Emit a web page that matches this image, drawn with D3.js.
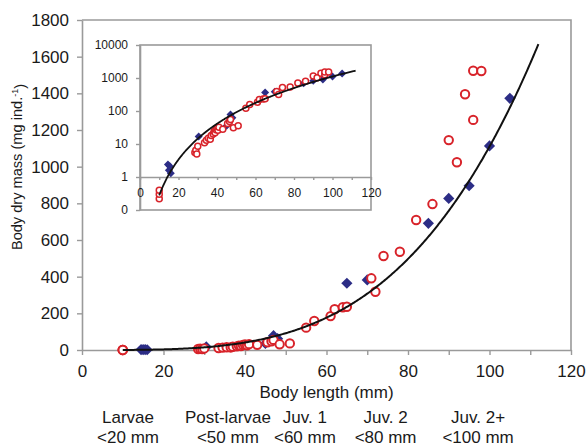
<!DOCTYPE html>
<html>
<head>
<meta charset="utf-8">
<script src="https://cdn.jsdelivr.net/npm/d3@7"></script>
<style>
  body { margin: 0; background: #fff; }
  svg text { font-family: "Liberation Sans", Arial, sans-serif; fill: #1a1a1a; }
</style>
</head>
<body>
<svg id="chart" width="587" height="446"></svg>
<script>
// Body length (mm) and dry mass (mg ind.-1), open circles
const redLength = [10, 10, 10, 28.5, 29, 29.5, 30, 33.5, 34.5, 35.5, 36.5, 37, 38, 38.5, 39, 39.5, 40, 40.5, 41, 43,
  45.5, 46.5, 47, 48.5, 51, 55, 57, 61, 62, 64, 65, 71, 72, 74, 78, 82, 86, 90, 92, 94, 96, 96, 98];
const redMass = [0.22, 0.3, 0.4, 5.5, 6.5, 5, 8.5, 11, 13, 15, 14, 18, 20, 24, 22, 27, 30, 26, 32, 28,
  42, 48, 55, 31, 36, 122, 158, 185, 222, 233, 236, 391, 318, 513, 536, 709, 796, 1145, 1024, 1395, 1255, 1523, 1522];

// Body length (mm) and dry mass (mg ind.-1), filled diamonds
const blueLength = [14.5, 15, 15.5, 16, 30.5, 45, 47, 48, 65, 70, 85, 90, 95, 100, 105];
const blueMass = [2.4, 1.6, 2.1, 1.3, 17, 36, 78, 62, 364, 382, 691, 827, 896, 1113, 1373];

// Power-law fit W = a * L^b over the measured length range
const fitCoef = 7.0e-5;
const fitExp = 3.6;
const fitRange = [10, 112];

const xTickValues = [0, 20, 40, 60, 80, 100, 120];
const yTickValues = [0, 200, 400, 600, 800, 1000, 1200, 1400, 1600, 1800];
const insetYTickValues = [0.1, 1, 10, 100, 1000, 10000];
const insetYTickLabels = ["0", "1", "10", "100", "1000", "10000"];

const stageNames = ["Larvae", "Post-larvae", "Juv. 1", "Juv. 2", "Juv. 2+"];
const stageLimits = ["<20 mm", "<50 mm", "<60 mm", "<80 mm", "<100 mm"];

// ---------------------------------------------------------------
const svg = d3.select("#chart");
const axisGrey = "#9a9a9a";
const red = "#d8232a";
const navy = "#2c2d86";

const redPts = redLength.map((L, i) => ({ L, W: redMass[i] }));
const bluePts = blueLength.map((L, i) => ({ L, W: blueMass[i] }));
const fitPts = d3.range(fitRange[0], fitRange[1] + 0.001, 0.25).map(L => ({ L, W: fitCoef * Math.pow(L, fitExp) }));

const diamond = s => `M0,${-s}L${s},0L0,${s}L${-s},0Z`;

function styleAxis(g) {
  g.select(".domain").attr("stroke", axisGrey).attr("stroke-width", 1.6);
  g.selectAll(".tick line").attr("stroke", axisGrey).attr("stroke-width", 1.4);
  g.selectAll(".tick text").attr("fill", "#1a1a1a");
}

// ---------------- main panel ----------------
const M = { left: 82, right: 571, top: 20, bottom: 350 };
const x = d3.scaleLinear().domain([0, 120]).range([M.left, M.right]);
const y = d3.scaleLinear().domain([0, 1800]).range([M.bottom, M.top]);

// frame (top and right edges)
svg.append("path")
  .attr("d", `M${M.left},${M.top}H${M.right}V${M.bottom}`)
  .attr("fill", "none").attr("stroke", axisGrey).attr("stroke-width", 1.6);

const gx = svg.append("g").attr("transform", `translate(0,${M.bottom})`)
  .call(d3.axisBottom(x).tickValues(d3.range(0, 121, 10))
    .tickFormat(d => xTickValues.includes(d) ? String(d) : "").tickSize(5).tickSizeOuter(0).tickPadding(10));
gx.selectAll("text").style("font-size", "17px");
styleAxis(gx);

const gy = svg.append("g").attr("transform", `translate(${M.left},0)`)
  .call(d3.axisLeft(y).tickValues(yTickValues).tickFormat(d => String(d))
    .tickSize(5).tickSizeOuter(0).tickPadding(8));
gy.selectAll("text").style("font-size", "17px");
styleAxis(gy);

// diamonds, then circles, then the fitted curve
svg.append("g").selectAll("path").data(bluePts).join("path")
  .attr("d", diamond(5.6))
  .attr("transform", d => `translate(${x(d.L)},${y(d.W)})`)
  .attr("fill", navy);

svg.append("g").selectAll("circle").data(redPts).join("circle")
  .attr("cx", d => x(d.L)).attr("cy", d => y(d.W)).attr("r", 4.2)
  .attr("fill", "#fff").attr("stroke", red).attr("stroke-width", 2);

svg.append("path").datum(fitPts)
  .attr("d", d3.line().x(d => x(d.L)).y(d => y(d.W)))
  .attr("fill", "none").attr("stroke", "#111").attr("stroke-width", 2);

// axis titles
svg.append("text").attr("x", (M.left + M.right) / 2).attr("y", 398)
  .attr("text-anchor", "middle").style("font-size", "17px").text("Body length (mm)");

const yt = svg.append("text").attr("transform", `translate(22,${167}) rotate(-90)`)
  .attr("text-anchor", "middle").style("font-size", "14.6px");
yt.append("tspan").text("Body dry mass (mg ind.");
yt.append("tspan").attr("dy", "-0.45em").style("font-size", "9px").text("-1");
yt.append("tspan").attr("dy", "0.45em").text(")");

// life-stage captions under the length axis
const stageCentres = [11.3, 35.8, 54.7, 74.5, 97.2];
const stages = svg.append("g").style("font-size", "17px").attr("text-anchor", "middle");
stageNames.forEach((name, i) => {
  stages.append("text").attr("x", x(stageCentres[i])).attr("y", 423).text(name);
  stages.append("text").attr("x", x(stageCentres[i])).attr("y", 443).text(stageLimits[i]);
});

// ---------------- inset (log mass) ----------------
const I = { left: 140, right: 371, top: 45, bottom: 210 };
const ix = d3.scaleLinear().domain([0, 120]).range([I.left, I.right]);
const iy = d3.scaleLog().domain([0.1, 10000]).range([I.bottom, I.top]);

svg.append("rect")
  .attr("x", I.left).attr("y", I.top).attr("width", I.right - I.left).attr("height", I.bottom - I.top)
  .attr("fill", "#fff").attr("stroke", axisGrey).attr("stroke-width", 1.6);

const igy = svg.append("g").attr("transform", `translate(${I.left},0)`)
  .call(d3.axisLeft(iy).tickValues(insetYTickValues)
    .tickFormat((d, i) => insetYTickLabels[i]).tickSize(4).tickSizeOuter(0).tickPadding(8));
igy.selectAll("text").style("font-size", "12px");
styleAxis(igy);

const igx = svg.append("g").attr("transform", `translate(0,${iy(1)})`)
  .call(d3.axisBottom(ix).tickValues(d3.range(0, 121, 10))
    .tickFormat(d => xTickValues.includes(d) ? String(d) : "").tickSize(3).tickSizeOuter(0).tickPadding(8));
igx.selectAll("text").style("font-size", "12px");
styleAxis(igx);

svg.append("g").selectAll("path").data(bluePts).join("path")
  .attr("d", diamond(4))
  .attr("transform", d => `translate(${ix(d.L)},${iy(d.W)})`)
  .attr("fill", navy);

svg.append("g").selectAll("circle").data(redPts).join("circle")
  .attr("cx", d => ix(d.L)).attr("cy", d => iy(d.W)).attr("r", 3)
  .attr("fill", "#fff").attr("stroke", red).attr("stroke-width", 1.5);

svg.append("path").datum(fitPts)
  .attr("d", d3.line().x(d => ix(d.L)).y(d => iy(d.W)))
  .attr("fill", "none").attr("stroke", "#111").attr("stroke-width", 1.8);
</script>
</body>
</html>
